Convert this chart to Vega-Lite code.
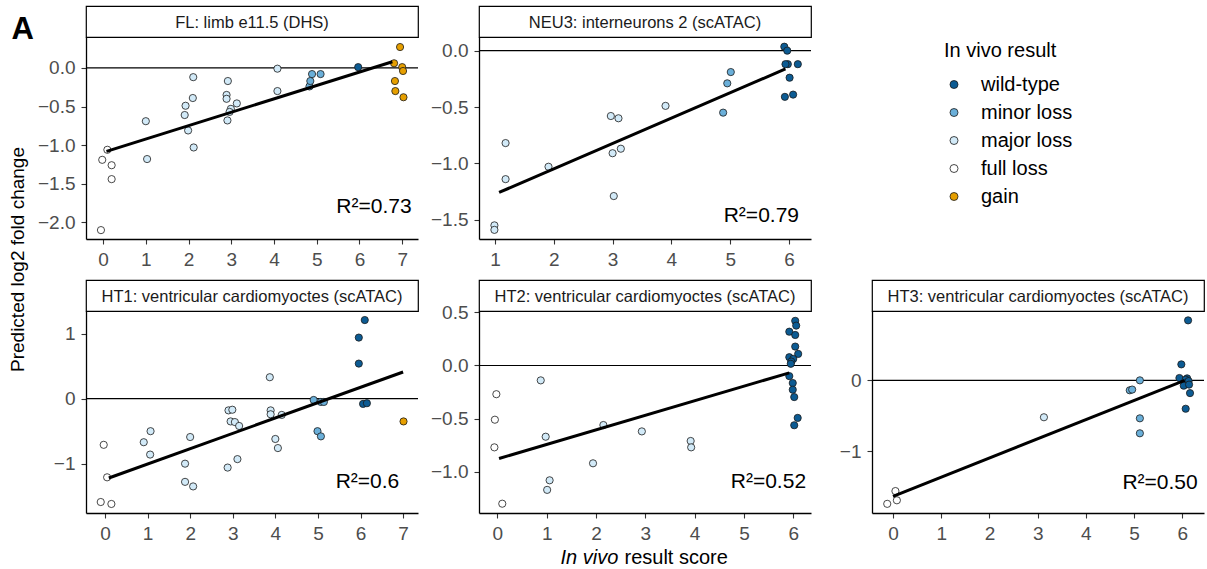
{
  "$schema": "https://vega.github.io/schema/vega-lite/v6.json",
  "padding": {"left": 8, "top": 5, "right": 0, "bottom": 0},
  "columns": 3,
  "spacing": {"row": 0, "column": 61},
  "bounds": "flush",
  "align": "each",
  "datasets": {
    "FL": [
      {"score": 0.10, "pred": -1.06, "result": "full loss"},
      {"score": -0.02, "pred": -1.19, "result": "full loss"},
      {"score": 0.20, "pred": -1.26, "result": "full loss"},
      {"score": 0.20, "pred": -1.44, "result": "full loss"},
      {"score": -0.05, "pred": -2.10, "result": "full loss"},
      {"score": 1.00, "pred": -0.69, "result": "major loss"},
      {"score": 1.03, "pred": -1.18, "result": "major loss"},
      {"score": 2.11, "pred": -0.12, "result": "major loss"},
      {"score": 2.10, "pred": -0.39, "result": "major loss"},
      {"score": 1.93, "pred": -0.49, "result": "major loss"},
      {"score": 1.91, "pred": -0.61, "result": "major loss"},
      {"score": 1.99, "pred": -0.81, "result": "major loss"},
      {"score": 2.12, "pred": -1.03, "result": "major loss"},
      {"score": 2.92, "pred": -0.17, "result": "major loss"},
      {"score": 2.89, "pred": -0.35, "result": "major loss"},
      {"score": 2.89, "pred": -0.40, "result": "major loss"},
      {"score": 3.13, "pred": -0.46, "result": "major loss"},
      {"score": 2.99, "pred": -0.53, "result": "major loss"},
      {"score": 2.96, "pred": -0.57, "result": "major loss"},
      {"score": 2.91, "pred": -0.68, "result": "major loss"},
      {"score": 4.08, "pred": -0.01, "result": "major loss"},
      {"score": 4.08, "pred": -0.30, "result": "major loss"},
      {"score": 4.83, "pred": -0.24, "result": "minor loss"},
      {"score": 4.85, "pred": -0.17, "result": "minor loss"},
      {"score": 4.89, "pred": -0.08, "result": "minor loss"},
      {"score": 5.09, "pred": -0.08, "result": "minor loss"},
      {"score": 5.97, "pred": 0.01, "result": "wild-type"},
      {"score": 6.95, "pred": 0.27, "result": "gain"},
      {"score": 6.81, "pred": 0.06, "result": "gain"},
      {"score": 7.00, "pred": 0.01, "result": "gain"},
      {"score": 7.02, "pred": -0.04, "result": "gain"},
      {"score": 6.83, "pred": -0.17, "result": "gain"},
      {"score": 6.84, "pred": -0.30, "result": "gain"},
      {"score": 7.03, "pred": -0.38, "result": "gain"}
    ],
    "FL_line": [{"score": 0.08, "pred": -1.08}, {"score": 6.77, "pred": 0.08}],
    "NEU3": [
      {"score": 0.99, "pred": -1.55, "result": "major loss"},
      {"score": 0.99, "pred": -1.59, "result": "major loss"},
      {"score": 1.18, "pred": -0.82, "result": "major loss"},
      {"score": 1.18, "pred": -1.14, "result": "major loss"},
      {"score": 1.91, "pred": -1.03, "result": "major loss"},
      {"score": 2.97, "pred": -0.58, "result": "major loss"},
      {"score": 3.10, "pred": -0.60, "result": "major loss"},
      {"score": 3.00, "pred": -0.91, "result": "major loss"},
      {"score": 3.14, "pred": -0.87, "result": "major loss"},
      {"score": 3.02, "pred": -1.29, "result": "major loss"},
      {"score": 3.90, "pred": -0.49, "result": "major loss"},
      {"score": 5.01, "pred": -0.19, "result": "minor loss"},
      {"score": 4.95, "pred": -0.29, "result": "minor loss"},
      {"score": 4.88, "pred": -0.55, "result": "minor loss"},
      {"score": 5.92, "pred": 0.035, "result": "wild-type"},
      {"score": 5.97, "pred": 0.0, "result": "wild-type"},
      {"score": 5.98, "pred": -0.12, "result": "wild-type"},
      {"score": 5.94, "pred": -0.12, "result": "wild-type"},
      {"score": 6.15, "pred": -0.12, "result": "wild-type"},
      {"score": 6.01, "pred": -0.24, "result": "wild-type"},
      {"score": 5.93, "pred": -0.41, "result": "wild-type"},
      {"score": 6.07, "pred": -0.39, "result": "wild-type"}
    ],
    "NEU3_line": [{"score": 1.07, "pred": -1.258}, {"score": 5.94, "pred": -0.162}],
    "HT1": [
      {"score": -0.03, "pred": -0.71, "result": "full loss"},
      {"score": 0.05, "pred": -1.21, "result": "full loss"},
      {"score": -0.10, "pred": -1.59, "result": "full loss"},
      {"score": 0.15, "pred": -1.62, "result": "full loss"},
      {"score": 0.91, "pred": -0.67, "result": "major loss"},
      {"score": 1.07, "pred": -0.50, "result": "major loss"},
      {"score": 1.06, "pred": -0.86, "result": "major loss"},
      {"score": 2.00, "pred": -0.59, "result": "major loss"},
      {"score": 1.88, "pred": -1.00, "result": "major loss"},
      {"score": 1.88, "pred": -1.28, "result": "major loss"},
      {"score": 2.07, "pred": -1.35, "result": "major loss"},
      {"score": 2.90, "pred": -0.18, "result": "major loss"},
      {"score": 2.99, "pred": -0.17, "result": "major loss"},
      {"score": 2.95, "pred": -0.35, "result": "major loss"},
      {"score": 3.05, "pred": -0.36, "result": "major loss"},
      {"score": 3.15, "pred": -0.42, "result": "major loss"},
      {"score": 2.88, "pred": -1.06, "result": "major loss"},
      {"score": 3.11, "pred": -0.93, "result": "major loss"},
      {"score": 3.87, "pred": 0.33, "result": "major loss"},
      {"score": 3.89, "pred": -0.18, "result": "major loss"},
      {"score": 3.89, "pred": -0.24, "result": "major loss"},
      {"score": 4.15, "pred": -0.25, "result": "major loss"},
      {"score": 4.00, "pred": -0.62, "result": "major loss"},
      {"score": 4.06, "pred": -0.76, "result": "major loss"},
      {"score": 4.90, "pred": -0.02, "result": "minor loss"},
      {"score": 5.07, "pred": -0.05, "result": "minor loss"},
      {"score": 5.14, "pred": -0.05, "result": "minor loss"},
      {"score": 4.99, "pred": -0.50, "result": "minor loss"},
      {"score": 5.07, "pred": -0.58, "result": "minor loss"},
      {"score": 6.10, "pred": 1.21, "result": "wild-type"},
      {"score": 5.96, "pred": 0.94, "result": "wild-type"},
      {"score": 5.96, "pred": 0.54, "result": "wild-type"},
      {"score": 6.06, "pred": -0.08, "result": "wild-type"},
      {"score": 6.15, "pred": -0.07, "result": "wild-type"},
      {"score": 7.01, "pred": -0.35, "result": "gain"}
    ],
    "HT1_line": [{"score": 0.09, "pred": -1.22}, {"score": 7.0, "pred": 0.41}],
    "HT2": [
      {"score": -0.02, "pred": -0.27, "result": "full loss"},
      {"score": -0.05, "pred": -0.51, "result": "full loss"},
      {"score": -0.06, "pred": -0.77, "result": "full loss"},
      {"score": 0.10, "pred": -1.30, "result": "full loss"},
      {"score": 0.88, "pred": -0.14, "result": "major loss"},
      {"score": 0.98, "pred": -0.67, "result": "major loss"},
      {"score": 1.06, "pred": -1.08, "result": "major loss"},
      {"score": 1.01, "pred": -1.17, "result": "major loss"},
      {"score": 1.94, "pred": -0.92, "result": "major loss"},
      {"score": 2.15, "pred": -0.56, "result": "major loss"},
      {"score": 2.93, "pred": -0.62, "result": "major loss"},
      {"score": 3.92, "pred": -0.71, "result": "major loss"},
      {"score": 3.93, "pred": -0.77, "result": "major loss"},
      {"score": 6.04, "pred": 0.42, "result": "wild-type"},
      {"score": 6.06, "pred": 0.375, "result": "wild-type"},
      {"score": 5.92, "pred": 0.318, "result": "wild-type"},
      {"score": 6.04, "pred": 0.287, "result": "wild-type"},
      {"score": 6.04, "pred": 0.178, "result": "wild-type"},
      {"score": 6.10, "pred": 0.109, "result": "wild-type"},
      {"score": 5.92, "pred": 0.078, "result": "wild-type"},
      {"score": 6.00, "pred": 0.062, "result": "wild-type"},
      {"score": 5.96, "pred": 0.037, "result": "wild-type"},
      {"score": 5.95, "pred": 0.016, "result": "wild-type"},
      {"score": 5.92, "pred": -0.10, "result": "wild-type"},
      {"score": 5.99, "pred": -0.165, "result": "wild-type"},
      {"score": 5.99, "pred": -0.228, "result": "wild-type"},
      {"score": 6.02, "pred": -0.297, "result": "wild-type"},
      {"score": 6.09, "pred": -0.493, "result": "wild-type"},
      {"score": 6.02, "pred": -0.562, "result": "wild-type"}
    ],
    "HT2_line": [{"score": 0.034, "pred": -0.875}, {"score": 5.92, "pred": -0.069}],
    "HT3": [
      {"score": 0.05, "pred": -1.56, "result": "full loss"},
      {"score": 0.08, "pred": -1.69, "result": "full loss"},
      {"score": -0.12, "pred": -1.74, "result": "full loss"},
      {"score": 3.13, "pred": -0.52, "result": "major loss"},
      {"score": 4.91, "pred": -0.14, "result": "minor loss"},
      {"score": 4.96, "pred": -0.13, "result": "minor loss"},
      {"score": 5.12, "pred": 0.0, "result": "minor loss"},
      {"score": 5.12, "pred": -0.535, "result": "minor loss"},
      {"score": 5.12, "pred": -0.746, "result": "minor loss"},
      {"score": 6.12, "pred": 0.845, "result": "wild-type"},
      {"score": 5.98, "pred": 0.225, "result": "wild-type"},
      {"score": 5.94, "pred": 0.033, "result": "wild-type"},
      {"score": 6.10, "pred": 0.028, "result": "wild-type"},
      {"score": 6.07, "pred": 0.01, "result": "wild-type"},
      {"score": 6.13, "pred": -0.01, "result": "wild-type"},
      {"score": 6.03, "pred": -0.075, "result": "wild-type"},
      {"score": 6.14, "pred": -0.06, "result": "wild-type"},
      {"score": 6.16, "pred": -0.18, "result": "wild-type"},
      {"score": 6.07, "pred": -0.40, "result": "wild-type"}
    ],
    "HT3_line": [{"score": 0.0, "pred": -1.634}, {"score": 6.05, "pred": 0.0}],
    "one": [{}]
  },
  "concat": [
    {"width": 332, "height": 31, "view": {"stroke": "#000000", "strokeWidth": 1.2, "fill": "#ffffff"},
     "title": {"text": "A", "orient": "left", "anchor": "middle", "frame": "group", "angle": 0, "align": "left", "baseline": "alphabetic", "offset": 52, "dy": 17.5, "fontSize": 31, "fontWeight": "bold", "color": "#000000"},
     "data": {"values": [{"label": "FL: limb e11.5 (DHS)"}]},
     "mark": {"type": "text", "fontSize": 16.5, "color": "#1A1A1A", "baseline": "alphabetic", "dy": 6},
     "encoding": {"text": {"field": "label"}}},
    {"width": 332, "height": 31, "view": {"stroke": "#000000", "strokeWidth": 1.2, "fill": "#ffffff"},
     "data": {"values": [{"label": "NEU3: interneurons 2 (scATAC)"}]},
     "mark": {"type": "text", "fontSize": 16.5, "color": "#1A1A1A", "baseline": "alphabetic", "dy": 6},
     "encoding": {"text": {"field": "label"}}},
    {"width": 332, "height": 31, "data": {"values": []}, "mark": "text", "encoding": {}},

    {"width": 332, "height": 202, "data": {"name": "FL"},
     "layer": [
      {"data": {"name": "one"}, "mark": {"type": "rule", "color": "#000000", "strokeWidth": 1.2}, "encoding": {"y": {"datum": 0}}},
      {"mark": {"type": "point", "filled": true, "size": 52, "opacity": 1, "stroke": "#1a1a1a", "strokeWidth": 0.8},
       "encoding": {
        "x": {"field": "score", "type": "quantitative", "scale": {"domain": [-0.4, 7.37], "nice": false, "zero": false},
              "axis": {"values": [0,1,2,3,4,5,6,7], "format": "d", "title": null}},
        "y": {"field": "pred", "type": "quantitative", "scale": {"domain": [-2.215, 0.40], "nice": false, "zero": false},
              "axis": {"values": [-2,-1.5,-1,-0.5,0], "format": ".1f", "title": "Predicted log2 fold change", "titleX": -63, "titleY": 222, "titleAngle": -90, "titleAlign": "center", "titleBaseline": "alphabetic", "titleFontSize": 19}},
        "color": {"field": "result", "type": "nominal", "title": "In vivo result",
                  "scale": {"domain": ["wild-type", "minor loss", "major loss", "full loss", "gain"], "range": ["#0C5B93", "#6AAFD9", "#D2EAF8", "#FFFFFF", "#E69F00"]}}
       }},
      {"data": {"name": "FL_line"}, "mark": {"type": "line", "color": "#000000", "strokeWidth": 3},
       "encoding": {"x": {"field": "score", "type": "quantitative"}, "y": {"field": "pred", "type": "quantitative"}}},
      {"data": {"name": "one"}, "mark": {"type": "text", "align": "right", "baseline": "alphabetic", "fontSize": 21, "color": "#000000"},
       "encoding": {"x": {"datum": 7.22}, "y": {"datum": -1.88}, "text": {"value": "R²=0.73"}}}
     ]},
    {"width": 332, "height": 202, "data": {"name": "NEU3"},
     "layer": [
      {"data": {"name": "one"}, "mark": {"type": "rule", "color": "#000000", "strokeWidth": 1.2}, "encoding": {"y": {"datum": 0}}},
      {"mark": {"type": "point", "filled": true, "size": 52, "opacity": 1, "stroke": "#1a1a1a", "strokeWidth": 0.8},
       "encoding": {
        "x": {"field": "score", "type": "quantitative", "scale": {"domain": [0.728, 6.374], "nice": false, "zero": false},
              "axis": {"values": [1,2,3,4,5,6], "format": "d", "title": null}},
        "y": {"field": "pred", "type": "quantitative", "scale": {"domain": [-1.671, 0.121], "nice": false, "zero": false},
              "axis": {"values": [-1.5,-1,-0.5,0], "format": ".1f", "title": null}},
        "color": {"field": "result", "type": "nominal", "title": "In vivo result",
                  "scale": {"domain": ["wild-type", "minor loss", "major loss", "full loss", "gain"], "range": ["#0C5B93", "#6AAFD9", "#D2EAF8", "#FFFFFF", "#E69F00"]}}
       }},
      {"data": {"name": "NEU3_line"}, "mark": {"type": "line", "color": "#000000", "strokeWidth": 3},
       "encoding": {"x": {"field": "score", "type": "quantitative"}, "y": {"field": "pred", "type": "quantitative"}}},
      {"data": {"name": "one"}, "mark": {"type": "text", "align": "right", "baseline": "alphabetic", "fontSize": 21, "color": "#000000"},
       "encoding": {"x": {"datum": 6.17}, "y": {"datum": -1.52}, "text": {"value": "R²=0.79"}}}
     ]},
    {"width": 332, "height": 202, "data": {"values": []}, "mark": "text", "encoding": {}},

    {"width": 332, "height": 41, "data": {"values": []}, "mark": "text", "encoding": {}},
    {"width": 332, "height": 41, "data": {"values": []}, "mark": "text", "encoding": {}},
    {"width": 332, "height": 41, "data": {"values": []}, "mark": "text", "encoding": {}},

    {"width": 332, "height": 31, "view": {"stroke": "#000000", "strokeWidth": 1.2, "fill": "#ffffff"},
     "data": {"values": [{"label": "HT1: ventricular cardiomyoctes (scATAC)"}]},
     "mark": {"type": "text", "fontSize": 16.5, "color": "#1A1A1A", "baseline": "alphabetic", "dy": 6},
     "encoding": {"text": {"field": "label"}}},
    {"width": 332, "height": 31, "view": {"stroke": "#000000", "strokeWidth": 1.2, "fill": "#ffffff"},
     "data": {"values": [{"label": "HT2: ventricular cardiomyoctes (scATAC)"}]},
     "mark": {"type": "text", "fontSize": 16.5, "color": "#1A1A1A", "baseline": "alphabetic", "dy": 6},
     "encoding": {"text": {"field": "label"}}},
    {"width": 332, "height": 31, "view": {"stroke": "#000000", "strokeWidth": 1.2, "fill": "#ffffff"},
     "data": {"values": [{"label": "HT3: ventricular cardiomyoctes (scATAC)"}]},
     "mark": {"type": "text", "fontSize": 16.5, "color": "#1A1A1A", "baseline": "alphabetic", "dy": 6},
     "encoding": {"text": {"field": "label"}}},

    {"width": 332, "height": 202, "data": {"name": "HT1"},
     "layer": [
      {"data": {"name": "one"}, "mark": {"type": "rule", "color": "#000000", "strokeWidth": 1.2}, "encoding": {"y": {"datum": 0}}},
      {"mark": {"type": "point", "filled": true, "size": 52, "opacity": 1, "stroke": "#1a1a1a", "strokeWidth": 0.8},
       "encoding": {
        "x": {"field": "score", "type": "quantitative", "scale": {"domain": [-0.446, 7.35], "nice": false, "zero": false},
              "axis": {"values": [0,1,2,3,4,5,6,7], "format": "d", "title": null}},
        "y": {"field": "pred", "type": "quantitative", "scale": {"domain": [-1.759, 1.349], "nice": false, "zero": false},
              "axis": {"values": [-1,0,1], "format": "d", "title": null}},
        "color": {"field": "result", "type": "nominal", "title": "In vivo result",
                  "scale": {"domain": ["wild-type", "minor loss", "major loss", "full loss", "gain"], "range": ["#0C5B93", "#6AAFD9", "#D2EAF8", "#FFFFFF", "#E69F00"]}}
       }},
      {"data": {"name": "HT1_line"}, "mark": {"type": "line", "color": "#000000", "strokeWidth": 3},
       "encoding": {"x": {"field": "score", "type": "quantitative"}, "y": {"field": "pred", "type": "quantitative"}}},
      {"data": {"name": "one"}, "mark": {"type": "text", "align": "right", "baseline": "alphabetic", "fontSize": 21, "color": "#000000"},
       "encoding": {"x": {"datum": 6.91}, "y": {"datum": -1.374}, "text": {"value": "R²=0.6"}}}
     ]},
    {"width": 332, "height": 202, "data": {"name": "HT2"},
     "resolve": {"scale": {"x": "independent"}, "axis": {"x": "independent"}},
     "layer": [
      {"data": {"name": "one"}, "mark": {"type": "rule", "color": "#000000", "strokeWidth": 1.2}, "encoding": {"y": {"datum": 0}}},
      {"mark": {"type": "point", "filled": true, "size": 52, "opacity": 1, "stroke": "#1a1a1a", "strokeWidth": 0.8},
       "encoding": {
        "x": {"field": "score", "type": "quantitative", "scale": {"domain": [-0.372, 6.36], "nice": false, "zero": false},
              "axis": {"orient": "bottom", "values": [0,1,2,3,4,5,6], "format": "d", "title": "result score", "titleX": 145, "titleY": 50, "titleAlign": "left", "titleBaseline": "alphabetic"}},
        "y": {"field": "pred", "type": "quantitative", "scale": {"domain": [-1.3875, 0.5125], "nice": false, "zero": false},
              "axis": {"values": [-1,-0.5,0,0.5], "format": ".1f", "title": null}},
        "color": {"field": "result", "type": "nominal", "title": "In vivo result",
                  "scale": {"domain": ["wild-type", "minor loss", "major loss", "full loss", "gain"], "range": ["#0C5B93", "#6AAFD9", "#D2EAF8", "#FFFFFF", "#E69F00"]}}
       }},
      {"data": {"name": "HT2_line"}, "mark": {"type": "line", "color": "#000000", "strokeWidth": 3},
       "encoding": {"x": {"field": "score", "type": "quantitative", "scale": {"domain": [-0.372, 6.36], "nice": false, "zero": false},
                          "axis": {"orient": "bottom", "title": "In vivo", "titleFontStyle": "italic", "titleX": 81, "titleY": 50, "titleAlign": "left", "titleBaseline": "alphabetic", "labels": false, "ticks": false, "domain": false}},
                    "y": {"field": "pred", "type": "quantitative"}}},
      {"data": {"name": "one"}, "mark": {"type": "text", "align": "right", "baseline": "alphabetic", "fontSize": 21, "color": "#000000"},
       "encoding": {"x": {"datum": 6.26, "scale": {"domain": [-0.372, 6.36], "nice": false, "zero": false}, "axis": null}, "y": {"datum": -1.153}, "text": {"value": "R²=0.52"}}}
     ]},
    {"width": 332, "height": 202, "data": {"name": "HT3"},
     "layer": [
      {"data": {"name": "one"}, "mark": {"type": "rule", "color": "#000000", "strokeWidth": 1.2}, "encoding": {"y": {"datum": 0}}},
      {"mark": {"type": "point", "filled": true, "size": 52, "opacity": 1, "stroke": "#1a1a1a", "strokeWidth": 0.8},
       "encoding": {
        "x": {"field": "score", "type": "quantitative", "scale": {"domain": [-0.436, 6.45], "nice": false, "zero": false},
              "axis": {"values": [0,1,2,3,4,5,6], "format": "d", "title": null}},
        "y": {"field": "pred", "type": "quantitative", "scale": {"domain": [-1.869, 0.977], "nice": false, "zero": false},
              "axis": {"values": [-1,0], "format": "d", "title": null}},
        "color": {"field": "result", "type": "nominal", "title": "In vivo result",
                  "scale": {"domain": ["wild-type", "minor loss", "major loss", "full loss", "gain"], "range": ["#0C5B93", "#6AAFD9", "#D2EAF8", "#FFFFFF", "#E69F00"]}}
       }},
      {"data": {"name": "HT3_line"}, "mark": {"type": "line", "color": "#000000", "strokeWidth": 3},
       "encoding": {"x": {"field": "score", "type": "quantitative"}, "y": {"field": "pred", "type": "quantitative"}}},
      {"data": {"name": "one"}, "mark": {"type": "text", "align": "right", "baseline": "alphabetic", "fontSize": 21, "color": "#000000"},
       "encoding": {"x": {"datum": 6.32}, "y": {"datum": -1.526}, "text": {"value": "R²=0.50"}}}
     ]}
  ],
  "config": {
    "font": "Liberation Sans",
    "view": {"stroke": null},
    "axis": {"grid": false, "domainColor": "#000000", "domainWidth": 1.3, "tickColor": "#333333", "tickWidth": 1.1, "tickSize": 5,
             "labelColor": "#4D4D4D", "labelFontSize": 19, "titleColor": "#000000", "titleFontSize": 20, "titleFontWeight": "normal",
             "labelExpr": "replace(datum.label, '-', '−')"},
    "axisX": {"labelPadding": 6},
    "axisY": {"labelPadding": 6},
    "legend": {"orient": "none", "legendX": 858, "legendY": 34.5, "padding": 0, "titleFontSize": 20, "titleFontWeight": "normal", "titleColor": "#000000",
               "titlePadding": 14, "labelFontSize": 20, "labelColor": "#000000", "labelOffset": 17, "rowPadding": 8, "symbolSize": 64, "symbolType": "circle",
               "symbolStrokeColor": "#1a1a1a", "symbolStrokeWidth": 0.8}
  }
}
